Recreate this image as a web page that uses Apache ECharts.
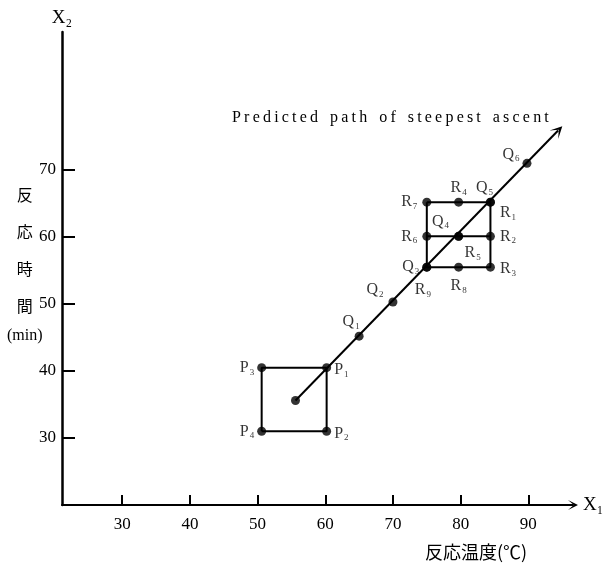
<!DOCTYPE html>
<html><head><meta charset="utf-8">
<script src="https://cdn.jsdelivr.net/npm/echarts@6/dist/echarts.min.js"></script>
<style>html,body{margin:0;padding:0;background:#fff}#c{width:615px;height:563px}</style>
</head><body><div id="c"></div>
<script>
// ---- data ----
const xTicks = [30, 40, 50, 60, 70, 80, 90];
const yTicks = [30, 40, 50, 60, 70];
const centerPoint = [55.6, 35.6];
const pNames = ['P1', 'P2', 'P3', 'P4'];
const pX = [60.2, 60.2, 50.6, 50.6];
const pY = [40.5, 31.0, 40.5, 31.0];
const qNames = ['Q1', 'Q2', 'Q3', 'Q4', 'Q5', 'Q6'];
const qX = [65.0, 70.0, 75.0, 79.7, 84.4, 89.8];
const qY = [45.2, 50.3, 55.5, 60.1, 65.2, 71.0];
const rNames = ['R1', 'R2', 'R3', 'R4', 'R5', 'R6', 'R7', 'R8', 'R9'];
const rX = [84.4, 84.4, 84.4, 79.7, 79.7, 75.0, 75.0, 79.7, 75.0];
const rY = [65.2, 60.1, 55.5, 65.2, 60.1, 60.1, 65.2, 55.5, 55.5];
const pathEnd = [94.4, 75.9];
const pathTitleWords = ['Predicted', 'path', 'of', 'steepest', 'ascent'];
const xName = '反応温度(℃)';
const yNameChars = ['反', '応', '時', '間'];
const yNameUnit = '(min)';

// ---- styles ----
const serif = '"Liberation Serif", "DejaVu Serif", serif';
const cjk = '"Noto Sans CJK JP", sans-serif';
const labelStyle = {
  P1: {position: 'right', offset: [0, 2]},
  P2: {position: 'right', offset: [0, 2]},
  P3: {position: 'left', offset: [0, 0]},
  P4: {position: 'left', offset: [0, 0]},
  Q1: {position: 'top', offset: [-8, 2]},
  Q2: {position: 'left', offset: [-2, -12]},
  Q3: {position: 'left', offset: [0, 0]},
  Q4: {position: 'left', offset: [-2, -15]},
  Q5: {position: 'top', offset: [-6, 2]},
  Q6: {position: 'left', offset: [0, -9]},
  R1: {position: 'right', offset: [2, 11]},
  R2: {position: 'right', offset: [2, 0]},
  R3: {position: 'right', offset: [2, 2]},
  R4: {position: 'top', offset: [0, 2]},
  R5: {position: 'bottom', offset: [14, 0]},
  R6: {position: 'left', offset: [-2, 0]},
  R7: {position: 'left', offset: [-2, 0]},
  R8: {position: 'bottom', offset: [0, 2]},
  R9: {position: 'bottom', offset: [-4, 6]}
};
const rich = {
  m: {fontFamily: serif, fontSize: 16, color: '#000', lineHeight: 18},
  s: {fontFamily: serif, fontSize: 9, color: '#000', verticalAlign: 'bottom', lineHeight: 12, padding: [0, 0, 0, 1]}
};

function pts(names, xs, ys) {
  return names.map((n, i) => {
    const ls = labelStyle[n];
    return {
      name: n, value: [xs[i], ys[i]],
      label: {show: true, position: ls.position, offset: ls.offset, distance: 3,
        formatter: '{m|' + n[0] + '}{s|' + n.slice(1) + '}', rich: rich}
    };
  });
}
function at(names, xs, ys, n) { const i = names.indexOf(n); return [xs[i], ys[i]]; }

const pSquare = ['P4', 'P2', 'P1', 'P3', 'P4'].map(n => at(pNames, pX, pY, n));
const rOuter = ['R7', 'R1', 'R3', 'R9', 'R7'].map(n => at(rNames, rX, rY, n));
const rMiddle = ['R6', 'R2'].map(n => at(rNames, rX, rY, n));
const titleText = pathTitleWords.map(w => w.split('').join('\u2009')).join('   ');
const yNameText = yNameChars.map(c => '{c|' + c + '}').join('\n') + '\n{u|' + yNameUnit + '}';

const lineBase = {type: 'line', symbol: 'none', silent: true, animation: false,
  lineStyle: {color: '#000', width: 2}};

const chart = echarts.init(document.getElementById('c'), null, {renderer: 'canvas'});
chart.setOption({
  animation: false,
  backgroundColor: '#fff',
  grid: {left: 62, right: 42, top: 32, bottom: 58, containLabel: false},
  xAxis: {
    type: 'value', min: 21.1, max: 96.6,
    name: 'X₁', nameLocation: 'end', nameGap: 10,
    nameTextStyle: {fontFamily: serif, fontSize: 19, color: '#000', verticalAlign: 'middle'},
    axisLine: {lineStyle: {color: '#000', width: 2},
      symbol: ['none', 'path://M0,12 L6,0 L12,12 L6,5 Z'], symbolSize: [10, 12]},
    axisTick: {inside: true, length: 10, lineStyle: {color: '#000', width: 2}, customValues: xTicks},
    axisLabel: {customValues: xTicks, margin: 11, fontFamily: serif, fontSize: 17, color: '#000'},
    splitLine: {show: false}
  },
  yAxis: {
    type: 'value', min: 20, max: 90.6,
    name: 'X₂', nameLocation: 'end', nameGap: 4,
    nameTextStyle: {fontFamily: serif, fontSize: 19, color: '#000', align: 'center'},
    axisLine: {lineStyle: {color: '#000', width: 2.5}},
    axisTick: {inside: true, length: 13, lineStyle: {color: '#000', width: 2}, customValues: yTicks},
    axisLabel: {customValues: yTicks, margin: 6, fontFamily: serif, fontSize: 17, color: '#000'},
    splitLine: {show: false}
  },
  graphic: [
    {type: 'text', left: 232, top: 110, style: {text: titleText, font: '16px ' + serif, fill: '#000'}},
    {type: 'text', left: 425, top: 543, style: {text: xName, font: '18px ' + cjk, fill: '#000'}},
    {type: 'text', left: 7, top: 187, style: {text: yNameText, fill: '#000', align: 'center',
      rich: {c: {fontFamily: cjk, fontSize: 16, lineHeight: 37, align: 'center'},
             u: {fontFamily: serif, fontSize: 16, lineHeight: 22, align: 'center'}}}}
  ],
  series: [
    Object.assign({}, lineBase, {data: pSquare}),
    Object.assign({}, lineBase, {data: rOuter}),
    Object.assign({}, lineBase, {data: rMiddle}),
    {type: 'lines', coordinateSystem: 'cartesian2d', silent: true, animation: false,
      symbol: ['none', 'path://M0,14 L6,0 L12,14 L6,6 Z'], symbolSize: [9, 12],
      lineStyle: {color: '#000', width: 2, opacity: 1},
      data: [{coords: [centerPoint, pathEnd]}]},
    {type: 'scatter', symbolSize: 9, itemStyle: {color: '#000'}, silent: true, animation: false,
      data: [{value: centerPoint}].concat(pts(pNames, pX, pY), pts(qNames, qX, qY), pts(rNames, rX, rY))}
  ]
});
</script>
</body></html>
